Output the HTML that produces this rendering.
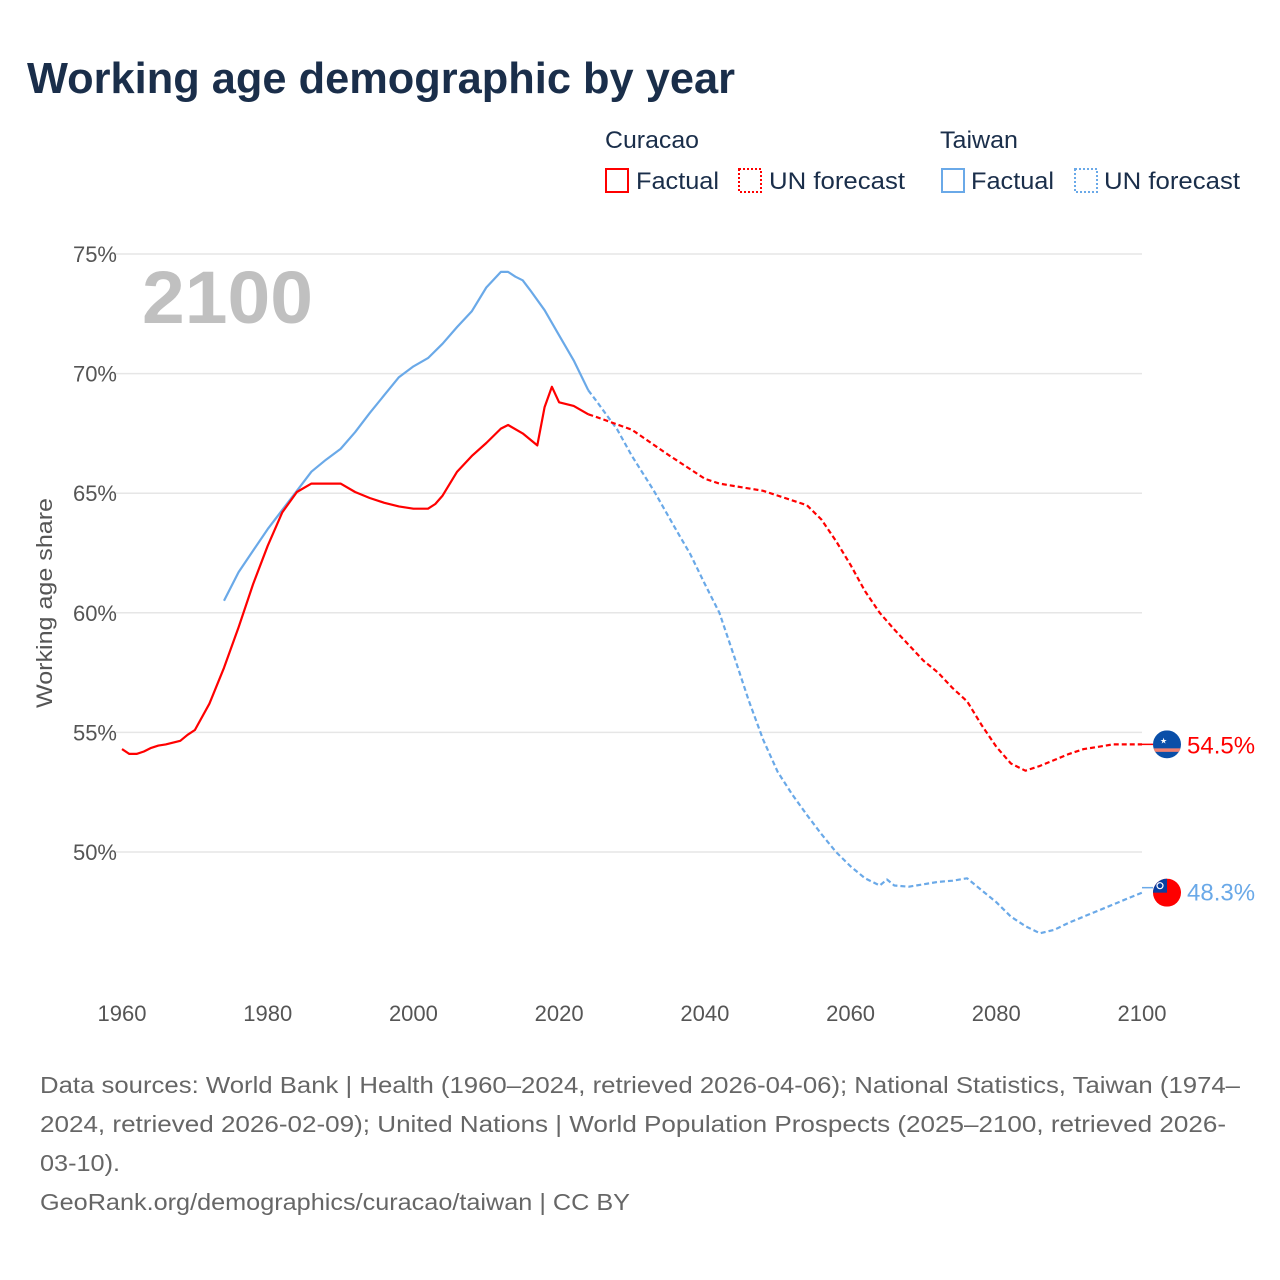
<!DOCTYPE html>
<html><head><meta charset="utf-8">
<style>
body{margin:0;background:#fff;font-family:"Liberation Sans",sans-serif;}
#wrap{position:relative;width:1280px;height:1280px;overflow:hidden;background:#fff;}
svg{position:absolute;left:0;top:0;}
</style></head>
<body>
<div id="wrap">
<svg id="chart" width="1280" height="1280">
  <text x="27" y="93" font-size="44" font-weight="bold" fill="#1a2e4a" textLength="708" lengthAdjust="spacingAndGlyphs">Working age demographic by year</text>
  <g font-size="24" fill="#1a2e4a">
    <text x="605" y="148" textLength="94" lengthAdjust="spacingAndGlyphs">Curacao</text>
    <text x="940" y="148" textLength="78" lengthAdjust="spacingAndGlyphs">Taiwan</text>
    <g>
      <rect x="606" y="169" width="22" height="23" fill="none" stroke="#ff0000" stroke-width="2"/>
      <text x="636" y="189" textLength="83" lengthAdjust="spacingAndGlyphs">Factual</text>
    </g>
    <g>
      <rect x="739" y="169" width="22" height="23" fill="none" stroke="#ff0000" stroke-width="2" stroke-dasharray="2,2"/>
      <text x="769" y="189" textLength="136" lengthAdjust="spacingAndGlyphs">UN forecast</text>
    </g>
    <g>
      <rect x="942" y="169" width="22" height="23" fill="none" stroke="#6aa9e8" stroke-width="2"/>
      <text x="971" y="189" textLength="83" lengthAdjust="spacingAndGlyphs">Factual</text>
    </g>
    <g>
      <rect x="1075" y="169" width="22" height="23" fill="none" stroke="#6aa9e8" stroke-width="2" stroke-dasharray="2,2"/>
      <text x="1104" y="189" textLength="136" lengthAdjust="spacingAndGlyphs">UN forecast</text>
    </g>
  </g>
  <g id="grid"></g>
  <g id="yticks" font-size="22" fill="#555"></g>
  <g id="xticks" font-size="22" fill="#555"></g>
  <text x="52" y="603" font-size="22" fill="#555" text-anchor="middle" textLength="210" lengthAdjust="spacingAndGlyphs" transform="rotate(-90 52 603)">Working age share</text>
  <text x="142" y="323" font-size="74" font-weight="bold" fill="#c0c0c0" textLength="171" lengthAdjust="spacingAndGlyphs">2100</text>
  <g id="series"></g>
  <g id="ends"></g>
  <g font-size="23" fill="#666">
    <text x="40" y="1093" textLength="1200" lengthAdjust="spacingAndGlyphs">Data sources: World Bank | Health (1960–2024, retrieved 2026-04-06); National Statistics, Taiwan (1974–</text>
    <text x="40" y="1132" textLength="1186" lengthAdjust="spacingAndGlyphs">2024, retrieved 2026-02-09); United Nations | World Population Prospects (2025–2100, retrieved 2026-</text>
    <text x="40" y="1171" textLength="80" lengthAdjust="spacingAndGlyphs">03-10).</text>
    <text x="40" y="1210" textLength="590" lengthAdjust="spacingAndGlyphs">GeoRank.org/demographics/curacao/taiwan | CC BY</text>
  </g>
</svg>
</div>
<script>
const yTicks=[50,55,60,65,70,75];
const xTicks=[1960,1980,2000,2020,2040,2060,2080,2100];
const curYearsF=[1960,1961,1962,1963,1964,1965,1966,1968,1969,1970,1972,1974,1976,1978,1980,1982,1984,1986,1988,1990,1992,1994,1996,1998,2000,2002,2003,2004,2006,2008,2010,2012,2013,2015,2017,2018,2019,2020,2022,2024];
const curValsF=[54.3,54.1,54.1,54.2,54.35,54.45,54.5,54.65,54.9,55.1,56.2,57.7,59.4,61.2,62.8,64.2,65.05,65.4,65.4,65.4,65.05,64.8,64.6,64.45,64.35,64.35,64.55,64.9,65.9,66.55,67.1,67.7,67.85,67.5,67.0,68.6,69.45,68.8,68.65,68.3];
const curYearsP=[2024,2025,2030,2035,2040,2042,2045,2048,2052,2054,2056,2058,2060,2062,2064,2066,2068,2070,2072,2074,2076,2078,2080,2082,2084,2086,2088,2090,2092,2094,2096,2100];
const curValsP=[68.3,68.2,67.65,66.6,65.6,65.4,65.25,65.1,64.7,64.5,63.9,63.0,62.0,60.9,60.0,59.3,58.65,58.0,57.5,56.85,56.3,55.3,54.4,53.7,53.4,53.6,53.85,54.1,54.3,54.4,54.5,54.5];
const twYearsF=[1974,1976,1978,1980,1982,1984,1986,1988,1990,1992,1994,1996,1998,2000,2002,2004,2006,2008,2010,2012,2013,2014,2015,2016,2018,2020,2022,2024];
const twValsF=[60.5,61.7,62.6,63.5,64.3,65.1,65.9,66.4,66.85,67.55,68.35,69.1,69.85,70.3,70.65,71.25,71.95,72.6,73.6,74.25,74.25,74.05,73.9,73.5,72.65,71.6,70.55,69.3];
const twYearsP=[2024,2025,2028,2030,2033,2036,2038,2040,2042,2044,2046,2048,2050,2052,2054,2056,2058,2060,2062,2064,2065,2066,2068,2070,2072,2074,2076,2078,2080,2082,2084,2086,2088,2090,2092,2094,2096,2098,2100];
const twValsP=[69.3,68.9,67.65,66.55,65.1,63.5,62.45,61.2,60.0,58.2,56.35,54.7,53.35,52.4,51.55,50.75,50.0,49.4,48.9,48.6,48.85,48.6,48.55,48.65,48.75,48.8,48.9,48.4,47.9,47.3,46.9,46.6,46.75,47.05,47.3,47.55,47.8,48.05,48.3];
const endLabels=["54.5%","48.3%"];

const NS="http://www.w3.org/2000/svg";
const X=y=>122+(y-1960)*(1020/140);
const Y=v=>254+(75-v)*(598/25);
function mk(tag,attrs,parent){const e=document.createElementNS(NS,tag);for(const k in attrs)e.setAttribute(k,attrs[k]);parent.appendChild(e);return e;}
const grid=document.getElementById('grid'),yt=document.getElementById('yticks'),xt=document.getElementById('xticks');
yTicks.forEach(v=>{
  const l=mk('line',{x1:116,x2:1142,y1:Y(v),y2:Y(v),stroke:'#e6e6e6','stroke-width':1.5},grid);
  
  
  const t=mk('text',{x:117,y:Y(v)+8,'text-anchor':'end'},yt);
  t.textContent=v+'%';
  
  
});
xTicks.forEach(y=>{
  const t=mk('text',{x:X(y),y:1021,'text-anchor':'middle'},xt);
  t.textContent=y;
  
  
});
const ser=document.getElementById('series');
function line(ys,vs,color,dash,name){
  const d=ys.map((y,i)=>(i?'L':'M')+X(y).toFixed(1)+' '+Y(vs[i]).toFixed(1)).join(' ');
  const p=mk('path',{d:d,fill:'none',stroke:color,'stroke-width':2.2,'stroke-linejoin':'round'},ser);
  if(dash)p.setAttribute('stroke-dasharray',dash);
  
  
}
line(twYearsF,twValsF,'#6aa9e8',null,'taiwan-factual-line');
line(twYearsP,twValsP,'#6aa9e8','5,3','taiwan-forecast-line');
line(curYearsF,curValsF,'#ff0000',null,'curacao-factual-line');
line(curYearsP,curValsP,'#ff0000','5,3','curacao-forecast-line');

const ends=document.getElementById('ends');
const cy1=Y(curValsP[curValsP.length-1]), cy2=Y(twValsP[twValsP.length-1]);
let g=mk('g',{},ends);


mk('line',{x1:1142,x2:1153,y1:cy1,y2:cy1,stroke:'#ff0000','stroke-width':1.5},g);
mk('clipPath',{id:'c1'},g).appendChild(document.createElementNS(NS,'circle'));
const c1=g.querySelector('#c1 circle');c1.setAttribute('cx',1167);c1.setAttribute('cy',cy1);c1.setAttribute('r',14);
const g1=mk('g',{'clip-path':'url(#c1)'},g);
mk('rect',{x:1153,y:cy1-14,width:28,height:28,fill:'#0a4fa8'},g1);
mk('rect',{x:1153,y:cy1+4,width:28,height:3.5,fill:'#f08070'},g1);
mk('text',{x:1160,y:cy1-1,'font-size':8,fill:'#fff'},g1).textContent='★';
let t=mk('text',{x:1187,y:cy1+9,'font-size':24,fill:'#ff0000'},ends);
t.textContent=endLabels[0];


g=mk('g',{},ends);


mk('line',{x1:1142,x2:1153,y1:cy2-5,y2:cy2-5,stroke:'#6aa9e8','stroke-width':1.5},g);
mk('clipPath',{id:'c2'},g).appendChild(document.createElementNS(NS,'circle'));
const c2=g.querySelector('#c2 circle');c2.setAttribute('cx',1167);c2.setAttribute('cy',cy2);c2.setAttribute('r',14);
const g2=mk('g',{'clip-path':'url(#c2)'},g);
mk('rect',{x:1153,y:cy2-14,width:28,height:28,fill:'#fe0000'},g2);
mk('rect',{x:1153,y:cy2-14,width:14,height:14,fill:'#0a3fa0'},g2);
mk('circle',{cx:1160,cy:cy2-7,r:3,fill:'none',stroke:'#fff','stroke-width':1.2},g2);
t=mk('text',{x:1187,y:cy2+8,'font-size':24,fill:'#6aa9e8'},ends);
t.textContent=endLabels[1];


</script>
</body></html>
